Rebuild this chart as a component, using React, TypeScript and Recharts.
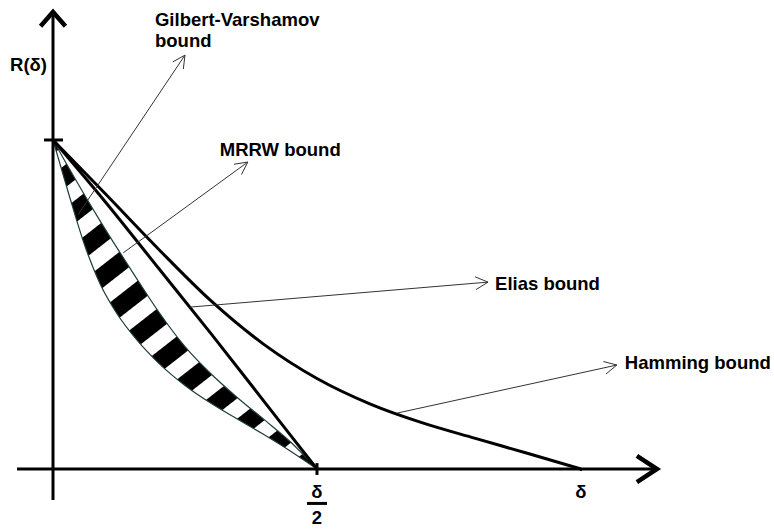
import { ComposedChart, XAxis, YAxis, Line, Area, ReferenceLine } from 'recharts'

// δ on the x axis (δ/2 = 0.5, δ = 1), rate R on the y axis (R = 1 at the tick)
const hammingDelta = [0, 0.1, 0.2, 0.3, 0.4, 0.5, 0.6, 0.7, 0.8, 0.9, 1.0]
const hammingRate = [1, 0.835, 0.668, 0.51, 0.378, 0.275, 0.198, 0.14, 0.093, 0.047, 0]

const eliasDelta = [0, 0.1, 0.2, 0.3, 0.4, 0.5]
const eliasRate = [1, 0.81, 0.61, 0.41, 0.205, 0]

// gap between the GV lower bound and the MRRW upper bound
const bandDelta = [0, 0.03, 0.06, 0.09, 0.12, 0.16, 0.2, 0.25, 0.3, 0.35, 0.4, 0.45, 0.5]
const gvRate = [1, 0.835, 0.68, 0.56, 0.475, 0.39, 0.322, 0.254, 0.199, 0.151, 0.104, 0.054, 0]
const mrrwRate = [1, 0.915, 0.832, 0.752, 0.675, 0.575, 0.478, 0.372, 0.288, 0.216, 0.15, 0.082, 0]

// callouts: text, point on the curve, arrow tip
const noteText = [['Gilbert-Varshamov', 'bound'], ['MRRW bound'], ['Elias bound'], ['Hamming bound']]
const noteFrom = [[0.047, 0.772], [0.133, 0.657], [0.259, 0.492], [0.652, 0.17]]
const noteTo = [[0.25, 1.258], [0.369, 0.933], [0.824, 0.568], [1.068, 0.316]]
// text offset from the arrow tip, px
const noteOffset = [[-30, -29.5], [-28, -6], [7, 8], [8, 4]]

const hamming = hammingDelta.map((d, i) => ({ d, r: hammingRate[i] }))
const elias = eliasDelta.map((d, i) => ({ d, r: eliasRate[i] }))
const band = bandDelta.map((d, i) => ({ d, gv: gvRate[i], mrrw: mrrwRate[i] }))

const FONT = '"Liberation Sans", Arial, sans-serif'
const textStyle = { fontFamily: FONT, fontWeight: 700, fontSize: 18.5, fill: '#000' }

// open V head at (tx, ty), pointing away from (fx, fy)
function chevron(fx: number, fy: number, tx: number, ty: number, len: number, spread: number) {
  const a = Math.atan2(ty - fy, tx - fx)
  const s = (spread * Math.PI) / 180
  const w1 = [tx - len * Math.cos(a - s), ty - len * Math.sin(a - s)]
  const w2 = [tx - len * Math.cos(a + s), ty - len * Math.sin(a + s)]
  return `M${w1[0]},${w1[1]} L${tx},${ty} L${w2[0]},${w2[1]}`
}

const axisShape = (p: any) => {
  const { x1, y1, x2, y2 } = p
  const horiz = Math.abs(x2 - x1) > Math.abs(y2 - y1)
  // arrow goes on the right end of δ and the top end of R
  const tipFirst = horiz ? x1 > x2 : y1 < y2
  const [tx, ty, fx, fy] = tipFirst ? [x1, y1, x2, y2] : [x2, y2, x1, y1]
  return (
    <g>
      <line x1={x1} y1={y1} x2={x2} y2={y2} stroke="#000" strokeWidth={3} />
      <path d={chevron(fx, fy, tx, ty, horiz ? 24 : 19, horiz ? 33 : 41)} fill="none" stroke="#000" strokeWidth={4.5} />
    </g>
  )
}

const halfTick = (p: any) => {
  const x = (p.x1 + p.x2) / 2
  const yb = Math.max(p.y1, p.y2)
  return (
    <g>
      <line x1={p.x1} y1={p.y1} x2={p.x2} y2={p.y2} stroke="#000" strokeWidth={3} />
      <text x={x} y={yb + 23} textAnchor="middle" style={textStyle}>δ</text>
      <line x1={x - 10} y1={yb + 28.5} x2={x + 10} y2={yb + 28.5} stroke="#000" strokeWidth={3} />
      <text x={x} y={yb + 49.5} textAnchor="middle" style={textStyle}>2</text>
    </g>
  )
}

const fullTick = (p: any) => {
  const x = (p.x1 + p.x2) / 2
  const yb = Math.max(p.y1, p.y2)
  return (
    <g>
      <line x1={p.x1} y1={p.y1} x2={p.x2} y2={p.y2} stroke="#000" strokeWidth={2} />
      <text x={x} y={yb + 27} textAnchor="middle" style={textStyle}>δ</text>
    </g>
  )
}

const rateTick = (p: any) => {
  const xl = Math.min(p.x1, p.x2)
  const y = (p.y1 + p.y2) / 2
  return (
    <g>
      <line x1={p.x1} y1={p.y1} x2={p.x2} y2={p.y2} stroke="#000" strokeWidth={3} />
      <text x={xl - 34} y={y - 69} style={textStyle}>R(δ)</text>
    </g>
  )
}

const noteShape = (i: number) => (p: any) => {
  const { x1, y1, x2, y2 } = p
  const [dx, dy] = noteOffset[i]
  return (
    <g>
      <line x1={x1} y1={y1} x2={x2} y2={y2} stroke="#333" strokeWidth={1} />
      <path d={chevron(x1, y1, x2, y2, 14, 27)} fill="none" stroke="#333" strokeWidth={1} />
      {noteText[i].map((t, k) => (
        <text key={k} x={x2 + dx} y={y2 + dy + k * 21} style={textStyle}>{t}</text>
      ))}
    </g>
  )
}

export default function App() {
  return (
    <div style={{ position: 'absolute', left: 0, top: 0, background: '#fff' }}>
      <ComposedChart width={774} height={529} margin={{ top: 12, right: 117, bottom: 29, left: 17 }}>
        <defs>
          <pattern id="gapHatch" patternUnits="userSpaceOnUse" width={34} height={34} patternTransform="rotate(52)">
            <rect x={0} y={0} width={34} height={34} fill="#fff" />
            <rect x={0} y={0} width={18} height={34} fill="#000" />
          </pattern>
        </defs>
        <XAxis type="number" dataKey="d" domain={[-0.0682, 1.144]} allowDataOverflow hide />
        <YAxis type="number" domain={[-0.0942, 1.389]} allowDataOverflow hide />

        <ReferenceLine y={0} shape={axisShape} />
        <ReferenceLine x={0} shape={axisShape} />
        <ReferenceLine segment={[{ x: -0.017, y: 1 }, { x: 0.019, y: 1 }]} shape={rateTick} />
        <ReferenceLine segment={[{ x: 0.5, y: -0.018 }, { x: 0.5, y: 0.018 }]} shape={halfTick} />
        <ReferenceLine segment={[{ x: 1, y: -0.006 }, { x: 1, y: 0.002 }]} shape={fullTick} />

        <Area
          data={band}
          dataKey={(row: any) => [row.gv, row.mrrw]}
          type="monotone"
          fill="url(#gapHatch)"
          fillOpacity={1}
          stroke="#1e3b3b"
          strokeWidth={1.2}
          isAnimationActive={false}
        />
        <Line data={elias} dataKey="r" type="monotone" stroke="#000" strokeWidth={3} dot={false} isAnimationActive={false} />
        <Line data={hamming} dataKey="r" type="monotone" stroke="#000" strokeWidth={3} dot={false} isAnimationActive={false} />

        {noteText.map((_, i) => (
          <ReferenceLine
            key={i}
            segment={[{ x: noteFrom[i][0], y: noteFrom[i][1] }, { x: noteTo[i][0], y: noteTo[i][1] }]}
            shape={noteShape(i)}
          />
        ))}
      </ComposedChart>
    </div>
  )
}
